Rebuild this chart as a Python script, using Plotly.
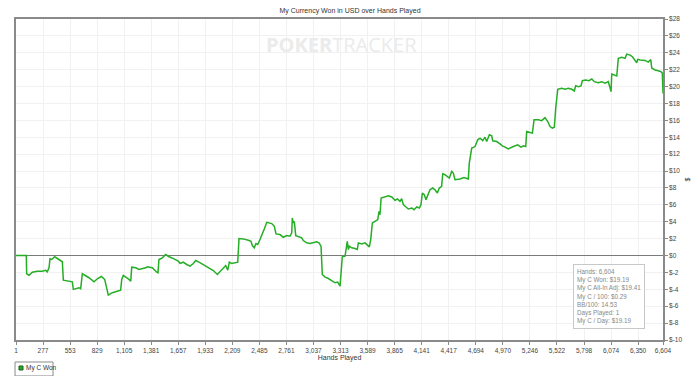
import plotly.graph_objects as go

hands = [1, 106, 110, 134, 167, 218, 269, 304, 320, 338, 348, 365, 396, 423, 474, 484, 542, 576, 586, 610,
         644, 661, 678, 746, 797, 831, 872, 906, 933, 943, 984, 1035, 1069, 1080, 1096, 1154, 1172, 1182, 1223, 1256,
         1290, 1325, 1341, 1392, 1437, 1450, 1460, 1494, 1529, 1563, 1614, 1657, 1675, 1708, 1743, 1777, 1811, 1835, 1869, 1913,
         1964, 2015, 2056, 2083, 2117, 2141, 2162, 2178, 2202, 2229, 2264, 2277, 2321, 2372, 2399, 2413, 2433, 2450, 2468, 2491,
         2515, 2535, 2560, 2611, 2637, 2655, 2695, 2729, 2764, 2797, 2815, 2821, 2831, 2841, 2856, 2882, 2917, 2933, 2968, 3002,
         3035, 3070, 3093, 3114, 3127, 3155, 3189, 3223, 3257, 3284, 3308, 3331, 3359, 3382, 3393, 3403, 3427, 3461, 3484, 3495,
         3529, 3563, 3580, 3607, 3621, 3638, 3665, 3693, 3706, 3716, 3727, 3767, 3801, 3836, 3869, 3893, 3920, 3937, 3954, 3981,
         4005, 4040, 4063, 4091, 4117, 4134, 4148, 4168, 4185, 4199, 4226, 4254, 4277, 4301, 4321, 4345, 4356, 4379, 4403, 4423,
         4448, 4464, 4481, 4532, 4573, 4601, 4617, 4627, 4652, 4686, 4713, 4737, 4764, 4788, 4805, 4832, 4856, 4866, 4907, 4941,
         4964, 4992, 5025, 5077, 5121, 5155, 5179, 5203, 5213, 5247, 5271, 5288, 5332, 5366, 5400, 5428, 5451, 5475, 5495, 5509,
         5530, 5570, 5604, 5638, 5673, 5699, 5713, 5740, 5767, 5781, 5815, 5849, 5877, 5903, 5944, 5979, 6012, 6046, 6064, 6074,
         6081, 6108, 6132, 6148, 6183, 6217, 6234, 6268, 6292, 6336, 6346, 6370, 6421, 6454, 6479, 6489, 6523, 6556, 6584, 6597,
         6604]

won = [0.00, 0.00, -2.16, -2.33, -1.97, -1.85, -1.85, -1.74, -1.93, -1.45, -0.39, -0.47, -0.15, -0.35, -0.74, -2.92, -3.03, -3.11, -4.01, -3.90,
       -3.81, -3.93, -2.16, -2.63, -3.11, -2.75, -2.48, -2.83, -4.40, -4.69, -4.40, -4.21, -4.10, -2.83, -2.36, -2.83, -3.03, -1.38, -1.45, -1.65,
       -1.57, -1.45, -1.33, -1.45, -1.97, -2.04, -0.47, -0.27, 0.12, -0.15, -0.39, -0.67, -0.94, -0.79, -1.06, -1.26, -0.94, -0.59, -0.79, -1.06,
       -1.45, -1.77, -2.24, -1.93, -1.57, -1.18, -1.74, -0.79, -0.94, -0.86, -0.79, 2.01, 1.97, 1.81, 1.69, 1.18, 0.91, 1.42, 1.30, 1.89,
       2.48, 3.15, 3.93, 3.78, 3.46, 2.56, 2.48, 2.16, 2.36, 2.28, 2.68, 4.45, 3.86, 4.05, 2.36, 2.21, 2.09, 1.77, 1.50, 1.42,
       1.50, 1.62, 1.50, 1.10, -2.24, -2.56, -2.72, -2.95, -3.23, -3.15, -3.62, -0.15, -0.08, 1.69, 0.71, 1.10, 0.91, 0.83, 0.71, 1.50,
       1.38, 1.50, 1.30, 1.03, 1.89, 3.86, 4.05, 4.25, 5.23, 4.84, 6.81, 6.93, 7.08, 6.93, 6.53, 6.69, 6.41, 6.73, 6.02, 5.75,
       5.51, 5.63, 5.43, 5.75, 5.63, 6.02, 7.40, 7.20, 6.61, 7.00, 7.79, 7.99, 7.79, 7.40, 7.99, 8.18, 9.68, 9.56, 9.36, 9.17,
       9.95, 9.76, 8.97, 9.06, 9.24, 9.17, 9.06, 10.94, 12.72, 12.90, 13.70, 13.90, 13.61, 14.01, 13.49, 14.29, 14.17, 13.58, 13.49, 13.22,
       12.99, 12.83, 12.63, 12.90, 13.10, 12.83, 12.99, 12.90, 14.68, 14.56, 14.49, 16.06, 16.06, 15.97, 16.33, 15.86, 15.27, 15.08, 15.19, 17.44,
       19.68, 19.80, 19.68, 19.80, 19.68, 19.48, 20.11, 19.99, 20.07, 20.70, 20.78, 20.70, 20.90, 20.58, 20.46, 20.58, 20.39, 20.58, 19.99, 19.40,
       21.49, 21.37, 21.25, 23.34, 23.46, 23.34, 23.85, 23.73, 23.53, 22.82, 23.22, 23.14, 23.10, 22.90, 23.20, 22.20, 21.96, 21.88, 21.76, 21.60,
       19.19]

x_tick_vals = [1, 277, 553, 829, 1105, 1381, 1657, 1933, 2209, 2485, 2761, 3037, 3313, 3589, 3865, 4141,
               4417, 4694, 4970, 5246, 5522, 5798, 6074, 6350, 6604]
x_tick_text = ["1", "277", "553", "829", "1,105", "1,381", "1,657", "1,933", "2,209", "2,485", "2,761", "3,037",
               "3,313", "3,589", "3,865", "4,141", "4,417", "4,694", "4,970", "5,246", "5,522", "5,798", "6,074",
               "6,350", "6,604"]
y_tick_vals = [28, 26, 24, 22, 20, 18, 16, 14, 12, 10, 8, 6, 4, 2, 0, -2, -4, -6, -8, -10]
y_tick_text = ["$28", "$26", "$24", "$22", "$20", "$18", "$16", "$14", "$12", "$10", "$8", "$6", "$4", "$2",
               "$0", "$-2", "$-4", "$-6", "$-8", "$-10"]

series_name = "My C Won"
stats_lines = ["Hands: 6,604", "My C Won: $19.19", "My C All-In Adj: $19.41", "My C / 100: $0.29",
               "BB/100: 14.53", "Days Played: 1", "My C / Day: $19.19"]

FONT = "Liberation Sans, Arial, sans-serif"
GREEN = "#25ad25"

fig = go.Figure()
fig.add_trace(go.Scatter(x=hands, y=won, mode="lines", name=series_name,
                         line=dict(color=GREEN, width=1.5), showlegend=False))

# The page body has an 8px margin; keep the figure inside the window (684x368) to avoid overflow.
fig.update_layout(
    width=684, height=368,
    margin=dict(l=8, r=29, t=11, b=36, autoexpand=False),
    paper_bgcolor="white", plot_bgcolor="white",
    font=dict(family=FONT, size=7, color="#444444"),
    title=dict(text="My Currency Won in USD over Hands Played", x=0.5, xref="container",
               y=0.992, yref="container", yanchor="middle",
               font=dict(size=7, color="#333333", family=FONT)),
    xaxis=dict(range=[1, 6604], tickvals=x_tick_vals, ticktext=x_tick_text, automargin=False,
               showgrid=True, gridcolor="#f1f1f1", gridwidth=1,
               showline=True, linecolor="#8a8a8a", linewidth=1.5, mirror=True,
               ticks="outside", ticklen=3, tickcolor="#8a8a8a",
               tickfont=dict(size=6.5, color="#444444"), zeroline=False,
               title=dict(text="Hands Played", font=dict(size=7, color="#333333"), standoff=2)),
    yaxis=dict(range=[-10, 28], tickvals=y_tick_vals, ticktext=y_tick_text, side="right", automargin=False,
               showgrid=True, gridcolor="#f1f1f1", gridwidth=1,
               showline=True, linecolor="#8a8a8a", linewidth=1.5, mirror=True,
               ticks="outside", ticklen=3, tickcolor="#8a8a8a",
               tickfont=dict(size=6.5, color="#444444"),
               zeroline=True, zerolinecolor="#7a7a7a", zerolinewidth=1.2,
               title=dict(text="$", font=dict(size=7, color="#333333"), standoff=4)),
    showlegend=False,
)

# watermark
fig.add_annotation(xref="paper", yref="paper", x=0.503, y=0.922, xanchor="center", yanchor="middle",
                   text="<b>POKER</b>TRACKER",
                   showarrow=False,
                   font=dict(size=20, color="#ebebeb", family="Open Sans, sans-serif"))

# stats box
fig.add_annotation(xref="paper", yref="paper", x=0.861, y=0.237, xanchor="left", yanchor="top",
                   text="<br>".join(stats_lines),
                   align="left", showarrow=False,
                   bgcolor="white", bordercolor="#c8c8c8", borderwidth=1, borderpad=3,
                   font=dict(size=6.3, color="#888888", family=FONT))

# legend box (drawn manually to mimic the small boxed legend)
fig.add_shape(type="rect", xref="paper", yref="paper", x0=-0.0015, x1=0.0572, y0=-0.1121, y1=-0.0685,
              line=dict(color="#8a8a8a", width=1), fillcolor="white")
fig.add_shape(type="rect", xref="paper", yref="paper", x0=0.0046, x1=0.0108, y0=-0.0935, y1=-0.081,
              line=dict(color="#1a5e1a", width=1), fillcolor=GREEN)
fig.add_annotation(xref="paper", yref="paper", x=0.0124, y=-0.0872, xanchor="left", yanchor="middle",
                   text=series_name, showarrow=False, font=dict(size=6.5, color="#333333", family=FONT))

fig.write_html("out.html")
